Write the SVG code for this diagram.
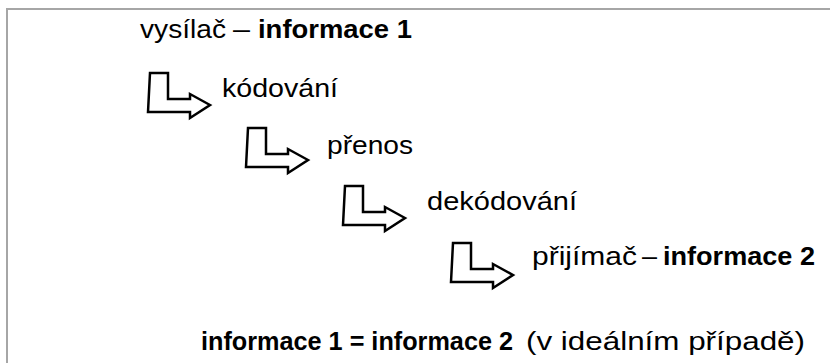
<svg xmlns="http://www.w3.org/2000/svg" width="830" height="363" viewBox="0 0 830 363">
<style>
.t{font-family:"Liberation Sans",Arial,sans-serif;font-size:26px;fill:#000}
.b{font-weight:bold}
.arr{fill:#fff;stroke:#000;stroke-width:2.5;stroke-linejoin:miter}
.frame{fill:none;stroke:#a6a6a6;stroke-width:2}
</style>
<defs>
<path id="bent" d="M2,0 H20 V26 H42 V21 L62,32 L42,45 V39 H0 Z"/>
</defs>
<rect width="830" height="363" fill="#fff"/>
<path class="frame" d="M7,363 V9 H830"/>
<g id="n1">
<text class="t" x="140" y="38" textLength="86" lengthAdjust="spacingAndGlyphs">vysílač</text>
<text class="t" x="233" y="38" textLength="17" lengthAdjust="spacingAndGlyphs">–</text>
<text class="t b" x="258" y="38" textLength="154" lengthAdjust="spacingAndGlyphs">informace 1</text>
</g>
<g id="n2"><text class="t" x="222" y="97" textLength="116" lengthAdjust="spacingAndGlyphs">kódování</text></g>
<g id="n3"><text class="t" x="327" y="154" textLength="86" lengthAdjust="spacingAndGlyphs">přenos</text></g>
<g id="n4"><text class="t" x="427" y="210" textLength="150" lengthAdjust="spacingAndGlyphs">dekódování</text></g>
<g id="n5">
<text class="t" x="532" y="265" textLength="105" lengthAdjust="spacingAndGlyphs">přijímač</text>
<text class="t" x="642" y="265" textLength="15" lengthAdjust="spacingAndGlyphs">–</text>
<text class="t b" x="663" y="265" textLength="152" lengthAdjust="spacingAndGlyphs">informace 2</text>
</g>
<g id="n6">
<text class="t b" x="201" y="350" textLength="312" lengthAdjust="spacingAndGlyphs">informace 1 = informace 2</text>
<text class="t" x="526" y="350" textLength="279" lengthAdjust="spacingAndGlyphs">(v ideálním případě)</text>
</g>
<g id="connectors">
<use href="#bent" class="arr" x="148" y="73"/>
<use href="#bent" class="arr" x="246" y="128"/>
<use href="#bent" class="arr" x="343" y="186"/>
<use href="#bent" class="arr" x="451" y="243"/>
</g>
</svg>
